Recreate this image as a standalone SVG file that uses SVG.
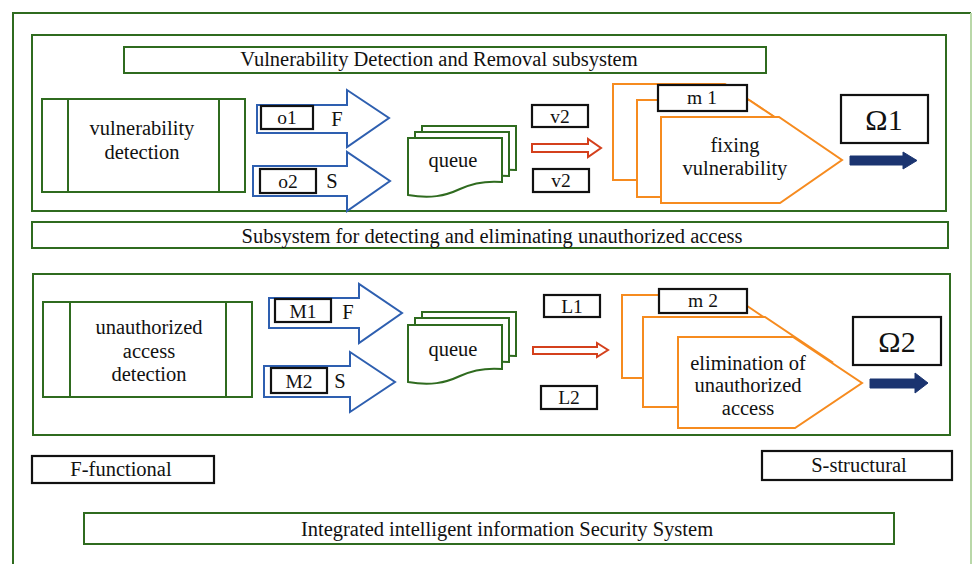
<svg xmlns="http://www.w3.org/2000/svg" width="973" height="564" viewBox="0 0 973 564">
<defs>
<style>
.g{fill:none;stroke:#2f6b1f;stroke-width:2}
.gw{fill:#fff;stroke:#2f6b1f;stroke-width:2}
.k{fill:#fff;stroke:#111;stroke-width:2.2}
.o{fill:#fff;stroke:#f68b1f;stroke-width:2}
.b{fill:#fff;stroke:#2e5fb0;stroke-width:2}
.r{fill:#fff;stroke:#d4401c;stroke-width:2}
.n{fill:#1b3470;stroke:#1b3470;stroke-width:1;stroke-linejoin:round}
text{font-size:20.5px;fill:#111;text-anchor:middle;dominant-baseline:central}
.s{font-size:19.5px}
.big{font-size:30px}
</style>
<path id="doc" d="M0,57 C22,61 37,58 52,51 C67,44 82,43 94,44 V0 H0 Z"/>
</defs>
<rect width="973" height="564" fill="#fff"/>
<g font-family="'Liberation Serif', 'DejaVu Serif', serif">
<!-- outer frame -->
<g id="outer">
<path class="g" d="M13,570 V13 H971"/>
<path d="M971,13 V570" fill="none" stroke="#b9d8a9" stroke-width="2"/>
</g>
<!-- subsystem 1 -->
<g id="frame1"><rect class="g" x="32" y="35" width="914" height="176"/></g>
<g id="title1"><rect class="gw" x="124" y="47" width="642" height="26"/><text x="439" y="59">Vulnerability Detection and Removal subsystem</text></g>
<g id="vulnDetection">
<rect class="gw" x="42" y="99" width="203" height="93"/>
<path class="g" d="M68,99 V192 M219,99 V192"/>
<text x="142" y="128">vulnerability</text><text x="142" y="152">detection</text>
</g>
<g id="queue1">
<use href="#doc" x="422" y="126" class="gw"/>
<use href="#doc" x="415" y="132" class="gw"/>
<use href="#doc" x="408" y="138" class="gw"/>
<text x="453" y="160">queue</text>
</g>
<g id="fix1">
<polygon class="o" points="613,84 725,84 797,132 725,180 613,180"/>
<polygon class="o" points="637,100 749,100 821,148 749,197 637,197"/>
<polygon class="o" points="661,117 779,117 842,160 780,203 661,203"/>
<rect class="k" x="658" y="85" width="89" height="26"/><text class="s" x="702" y="97">m 1</text>
<text x="735" y="145">fixing</text><text x="735" y="168">vulnerability</text>
</g>
<g id="omega1"><rect class="k" x="841" y="95" width="87" height="48"/><text class="big" x="884" y="119">Ω1</text></g>
<!-- band -->
<g id="band"><rect class="gw" x="32" y="222" width="916" height="26"/><text x="492" y="236">Subsystem for detecting and eliminating unauthorized access</text></g>
<!-- subsystem 2 -->
<g id="frame2"><rect class="g" x="33" y="274" width="917" height="161"/></g>
<g id="uaDetection">
<rect class="gw" x="43" y="302" width="209" height="95"/>
<path class="g" d="M70,302 V397 M226,302 V397"/>
<text x="149" y="327">unauthorized</text><text x="149" y="351">access</text><text x="149" y="374">detection</text>
</g>
<g id="queue2">
<use href="#doc" x="422" y="312" class="gw"/>
<use href="#doc" x="415" y="318" class="gw"/>
<use href="#doc" x="408" y="325" class="gw"/>
<text x="453" y="349">queue</text>
</g>
<g id="elim2">
<polygon class="o" points="622,295 731,295 793,337 731,378 622,378"/>
<polygon class="o" points="643,317 765,317 832,362 765,407 643,407"/>
<polygon class="o" points="678,337 793,337 862,383 795,428 678,428"/>
<rect class="k" x="659" y="289" width="88" height="24"/><text class="s" x="703" y="300">m 2</text>
<text x="748" y="363">elimination of</text><text x="748" y="385">unauthorized</text><text x="748" y="408">access</text>
</g>
<g id="omega2"><rect class="k" x="853" y="317" width="88" height="48"/><text class="big" x="897" y="341">Ω2</text></g>
<!-- connectors -->
<g id="connectors">
<polygon class="b" points="257,105 347,105 347,90 389,118 347,147 347,133 257,133"/>
<polygon class="b" points="253,166 347,166 347,152 390,181 347,211 347,196 253,196"/>
<polygon class="r" points="532,144 588,144 588,139 601,148 588,157 588,152 532,152"/>
<polygon class="n" points="850,156 903,156 903,152 917,160.5 903,169 903,165 850,165"/>
<polygon class="b" points="269,298 359,298 359,284 402,313 359,343 359,328 269,328"/>
<polygon class="b" points="264,366 350,366 350,352 395,382 350,412 350,397 264,397"/>
<polygon class="r" points="533,347 597,347 597,343 608,350 597,357 597,354 533,354"/>
<polygon class="n" points="870,379 915,379 915,373 928,383 915,393 915,388 870,388"/>
</g>
<!-- labels -->
<g id="lbl-o1"><rect class="k" x="261" y="106" width="52" height="23"/><text class="s" x="287" y="117">o1</text><text x="337" y="119">F</text></g>
<g id="lbl-o2"><rect class="k" x="260" y="169" width="56" height="24"/><text class="s" x="288" y="181">o2</text><text x="332" y="181">S</text></g>
<g id="lbl-v2a"><rect class="k" x="532" y="105" width="56" height="22"/><text class="s" x="560" y="116">v2</text></g>
<g id="lbl-v2b"><rect class="k" x="533" y="169" width="56" height="23"/><text class="s" x="561" y="180">v2</text></g>
<g id="lbl-M1"><rect class="k" x="275" y="299" width="56" height="23"/><text class="s" x="303" y="311">M1</text><text x="348" y="312">F</text></g>
<g id="lbl-M2"><rect class="k" x="271" y="368" width="56" height="25"/><text class="s" x="299" y="381">M2</text><text x="340" y="381">S</text></g>
<g id="lbl-L1"><rect class="k" x="544" y="295" width="56" height="22"/><text class="s" x="572" y="306">L1</text></g>
<g id="lbl-L2"><rect class="k" x="541" y="386" width="56" height="23"/><text class="s" x="569" y="397">L2</text></g>
<!-- legend -->
<g id="legendF"><rect class="k" x="32" y="456" width="182" height="27"/><text x="121" y="469">F-functional</text></g>
<g id="legendS"><rect class="k" x="762" y="451" width="190" height="29"/><text x="859" y="465">S-structural</text></g>
<g id="system"><rect class="gw" x="84" y="513" width="810" height="31"/><text x="507" y="529">Integrated intelligent information Security System</text></g>
</g>
</svg>
